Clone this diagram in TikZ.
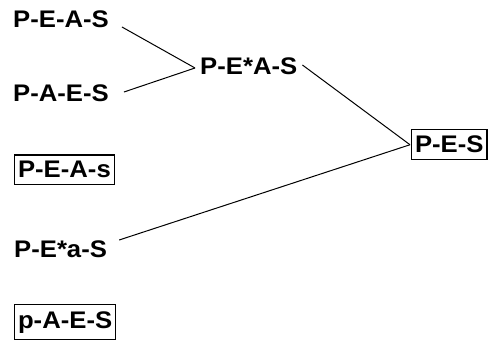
\documentclass[tikz,border=0pt]{standalone}
\usepackage{fontspec}
\setmainfont[FakeStretch=1.07]{Liberation Sans}
\usetikzlibrary{calc}
\begin{document}
\begin{tikzpicture}[x=1pt,y=-1pt,
  lbl/.style={font=\bfseries\fontsize{24}{26}\selectfont, inner sep=0pt, anchor=base west},
  boxed/.style={lbl, draw, line width=1.1pt, inner xsep=3.5pt, inner ysep=6.5pt},
  conn/.style={line width=1pt}]
\useasboundingbox (0,0) rectangle (490,350);
\node[lbl] (peas) at (13,28) {P-E-A-S};
\node[lbl] (paes) at (13,102) {P-A-E-S};
\node[lbl] (pestar) at (200,75) {P-E*A-S};
\node[lbl] (pesa) at (14,257) {P-E*a-S};
\node[boxed] (pes) at (411,153) {P-E-S};
\node[boxed] (peas2) at (14,178) {P-E-A-s};
\node[boxed] (paes2) at (14,328) {p-A-E-S};
\draw[conn] ($(peas.base east)+(13,-1)$) -- ($(pestar.base west)+(-5,-7)$);
\draw[conn] ($(paes.base east)+(15,-10)$) -- ($(pestar.base west)+(-5,-7)$);
\draw[conn] ($(pestar.base east)+(5,-10)$) -- ($(pes.west)+(-1,0)$);
\draw[conn] ($(pesa.base east)+(12,-17)$) -- ($(pes.west)+(-1,0)$);
\end{tikzpicture}
\end{document}
